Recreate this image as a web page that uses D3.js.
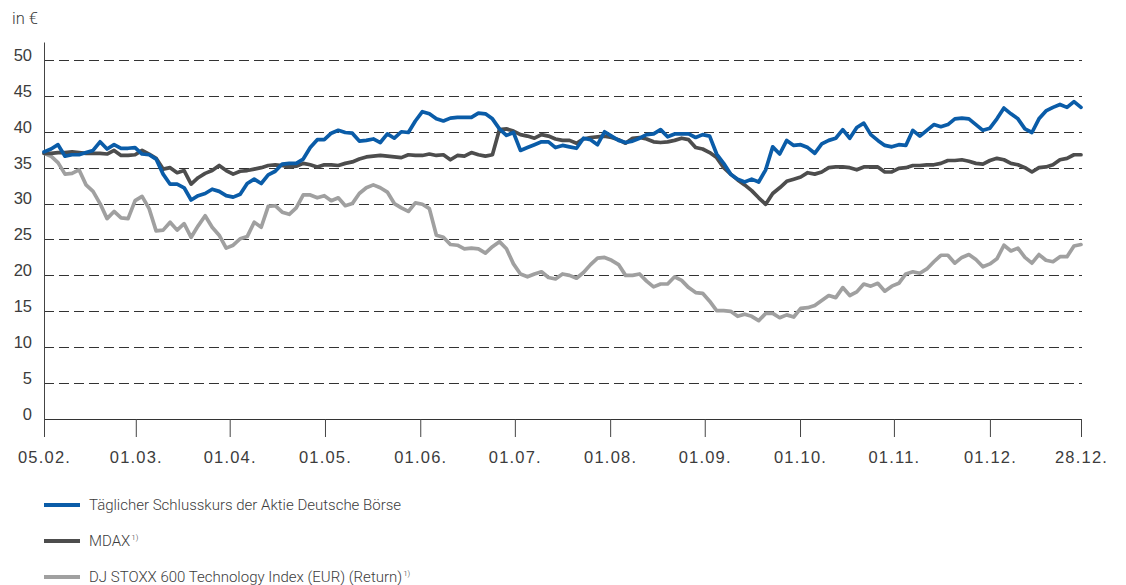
<!doctype html>
<meta charset="utf-8">
<title>Deutsche Börse Aktie 2001</title>
<style>
    html, body {
        margin: 0;
        background: #fff;
    }

    svg {
        display: block;
        font-family: Roboto, "Liberation Sans", sans-serif;
    }

    .axis text {
        font-size: 16.5px;
        fill: #3c3c3c;
        font-weight: 300;
    }

    .line {
        fill: none;
        stroke-width: 3.7;
        stroke-linejoin: round;
        stroke-linecap: round;
    }

    .legend text {
        font-size: 15px;
        fill: #3c3c3c;
        font-weight: 300;
    }
</style>
<svg width=1126 height=585></svg>
<script src="https://cdn.jsdelivr.net/npm/d3@7/dist/d3.min.js"></script>
<script>
    // tick labels and where they sit on the trading-day index
    var tickLabels = ['05.02.', '01.03.', '01.04.', '01.05.', '01.06.', '01.07.', '01.08.', '01.09.', '01.10.', '01.11.', '01.12.', '28.12.'];
    var tickIndex = [0, 13.1, 26.5, 40.1, 53.7, 67.2, 80.8, 94.3, 107.9, 121.3, 135.0, 148];
    var yTicks = [0, 5, 10, 15, 20, 25, 30, 35, 40, 45, 50];

    // daily closing price Deutsche Börse share
    var boerse = [
        37.2, 37.6, 38.2, 36.6, 36.8, 36.8, 37.1, 37.4, 38.6, 37.6,
        38.2, 37.7, 37.7, 37.8, 36.9, 36.8, 36.2, 34.1, 32.7, 32.7,
        32.2, 30.5, 31.1, 31.4, 32.0, 31.7, 31.1, 30.9, 31.3, 32.8,
        33.4, 32.8, 34.0, 34.5, 35.5, 35.6, 35.6, 36.2, 37.8, 38.9,
        38.9, 39.8, 40.2, 39.9, 39.8, 38.7, 38.8, 39.0, 38.5, 39.7,
        39.1, 40.0, 39.9, 41.5, 42.8, 42.5, 41.8, 41.5, 41.9, 42.0,
        42.0, 42.0, 42.6, 42.5, 41.8, 40.4, 39.5, 39.9, 37.4, 37.8,
        38.2, 38.6, 38.6, 37.8, 38.1, 37.9, 37.7, 39.1, 38.9, 38.2,
        40.0, 39.4, 38.8, 38.5, 38.7, 39.1, 39.6, 39.7, 40.3, 39.3,
        39.7, 39.7, 39.7, 39.2, 39.6, 39.4, 36.9, 35.6, 34.1, 33.4,
        33.0, 33.4, 33.0, 34.7, 37.9, 36.9, 38.8, 38.1, 38.2, 37.8,
        37.0, 38.3, 38.8, 39.1, 40.3, 39.1, 40.6, 41.2, 39.6, 38.8,
        38.1, 37.9, 38.2, 38.1, 40.2, 39.4, 40.2, 41.0, 40.7, 41.0,
        41.8, 41.9, 41.8, 41.0, 40.2, 40.5, 41.8, 43.3, 42.5, 41.8,
        40.4, 39.9, 41.8, 42.9, 43.4, 43.8, 43.4, 44.2, 43.4
    ];

    // MDAX, indexed
    var mdax = [
        37.0, 37.0, 37.1, 37.1, 37.2, 37.1, 37.0, 37.0, 37.0, 36.9,
        37.4, 36.7, 36.7, 36.8, 37.4, 36.9, 36.3, 34.8, 35.0, 34.3,
        34.6, 32.7, 33.6, 34.2, 34.6, 35.3, 34.6, 34.1, 34.5, 34.6,
        34.8, 35.0, 35.3, 35.4, 35.3, 35.1, 35.2, 35.6, 35.4, 35.1,
        35.4, 35.4, 35.3, 35.6, 35.8, 36.2, 36.5, 36.6, 36.7, 36.6,
        36.5, 36.4, 36.8, 36.7, 36.7, 36.9, 36.7, 36.8, 36.1, 36.7,
        36.6, 37.1, 36.8, 36.6, 36.8, 40.3, 40.4, 40.1, 39.6, 39.4,
        39.1, 39.6, 39.4, 39.0, 38.8, 38.8, 38.4, 39.0, 39.2, 39.3,
        39.4, 39.2, 38.9, 38.4, 39.1, 39.2, 39.0, 38.6, 38.5, 38.6,
        38.8, 39.1, 38.9, 37.8, 37.6, 37.1, 36.4, 35.0, 34.1, 33.3,
        32.6, 31.8, 30.8, 29.9, 31.4, 32.2, 33.1, 33.4, 33.7, 34.3,
        34.1, 34.4, 35.0, 35.1, 35.1, 35.0, 34.7, 35.1, 35.1, 35.1,
        34.4, 34.4, 34.9, 35.0, 35.3, 35.3, 35.4, 35.4, 35.6, 36.0,
        36.0, 36.1, 35.9, 35.6, 35.5, 36.0, 36.3, 36.1, 35.6, 35.4,
        35.0, 34.4, 35.0, 35.1, 35.4, 36.1, 36.3, 36.8, 36.8
    ];

    // DJ STOXX 600 Technology Index (EUR)(Return), indexed
    var stoxx = [
        37.0, 36.6, 35.7, 34.1, 34.2, 34.7, 32.6, 31.7, 30.0, 27.9,
        28.9, 28.0, 27.9, 30.4, 31.0, 29.3, 26.2, 26.3, 27.4, 26.3,
        27.2, 25.3, 26.9, 28.3, 26.7, 25.6, 23.8, 24.2, 25.1, 25.4,
        27.4, 26.7, 29.6, 29.7, 28.8, 28.5, 29.4, 31.2, 31.2, 30.8,
        31.1, 30.4, 30.8, 29.7, 30.0, 31.4, 32.2, 32.6, 32.2, 31.6,
        30.0, 29.4, 28.9, 30.1, 29.9, 29.3, 25.6, 25.3, 24.3, 24.2,
        23.7, 23.8, 23.7, 23.1, 24.0, 24.7, 23.7, 21.6, 20.2, 19.8,
        20.2, 20.5, 19.7, 19.5, 20.2, 20.0, 19.6, 20.4, 21.5, 22.4,
        22.5, 22.1, 21.5, 20.0, 20.0, 20.2, 19.2, 18.4, 18.8, 18.8,
        19.8, 19.3, 18.3, 17.6, 17.5, 16.4, 15.1, 15.1, 15.0, 14.3,
        14.6, 14.3, 13.7, 14.7, 14.7, 14.1, 14.5, 14.2, 15.4, 15.5,
        15.8, 16.5, 17.2, 16.9, 18.3, 17.2, 17.7, 18.8, 18.5, 18.9,
        17.8, 18.5, 18.9, 20.2, 20.5, 20.3, 20.9, 21.9, 22.8, 22.8,
        21.7, 22.5, 22.9, 22.2, 21.2, 21.6, 22.3, 24.2, 23.4, 23.8,
        22.5, 21.7, 22.9, 22.1, 21.9, 22.6, 22.6, 24.1, 24.3
    ];

    var seriesNames = ['Täglicher Schlusskurs der Aktie Deutsche Börse', 'MDAX', 'DJ STOXX 600 Technology Index (EUR) (Return)'];
    var seriesColors = ['#0a5ca8', '#4d4d4d', '#a0a0a0'];

    var svg = d3.select('svg');
    var margin = {top: 42, right: 45, bottom: 166, left: 44};
    var width = 1126 - margin.left - margin.right;
    var height = 585 - margin.top - margin.bottom;

    var x = d3.scaleLinear().domain([0, boerse.length - 1]).range([margin.left, margin.left + width]);
    var y = d3.scaleLinear().domain([0, 52.5]).range([margin.top + height, margin.top]);

    // dashed grid
    svg.append('g')
        .selectAll('line')
        .data(yTicks.filter(function (d) { return d > 0; }))
        .enter()
        .append('line')
        .attr('x1', x(0))
        .attr('x2', x(boerse.length - 1) + 1)
        .attr('y1', function (d) { return Math.round(y(d)) + 0.5; })
        .attr('y2', function (d) { return Math.round(y(d)) + 0.5; })
        .attr('stroke', '#333')
        .attr('stroke-width', 1)
        .attr('stroke-dasharray', '10,5');

    // y axis
    var yAxis = svg.append('g')
        .attr('class', 'axis')
        .attr('transform', 'translate(' + margin.left + ',0)')
        .call(d3.axisLeft(y).tickValues(yTicks).tickSize(0).tickPadding(12));
    yAxis.select('.domain').attr('stroke', '#444');
    yAxis.selectAll('text').attr('dy', '0.02em');

    // x axis
    var xAxis = svg.append('g')
        .attr('class', 'axis')
        .attr('transform', 'translate(0,' + (margin.top + height) + ')')
        .call(d3.axisBottom(x)
            .tickValues(tickIndex)
            .tickFormat(function (d, i) { return tickLabels[i]; })
            .tickSize(18)
            .tickSizeOuter(0)
            .tickPadding(14));
    xAxis.select('.domain').attr('stroke', '#333');
    xAxis.selectAll('.tick line').attr('stroke', '#444');
    xAxis.selectAll('text').style('letter-spacing', '1.2px');

    // lines, lightest at the back
    var line = d3.line()
        .x(function (d, i) { return x(i); })
        .y(function (d) { return y(d); });

    var series = [boerse, mdax, stoxx];
    [2, 1, 0].forEach(function (k) {
        svg.append('path')
            .attr('class', 'line')
            .attr('d', line(series[k]))
            .style('stroke', seriesColors[k]);
    });

    // "in €"
    svg.append('text')
        .attr('x', 12)
        .attr('y', 24)
        .attr('font-size', 16.5)
        .attr('font-weight', 300)
        .attr('fill', '#3c3c3c')
        .text('in €');

    // legend
    var legend = svg.append('g').attr('class', 'legend');
    var item = legend.selectAll('g')
        .data(seriesNames)
        .enter()
        .append('g')
        .attr('transform', function (d, i) { return 'translate(44,' + (505 + i * 36) + ')'; });

    item.append('line')
        .attr('x1', 0)
        .attr('x2', 36)
        .attr('stroke-width', 3.8)
        .attr('stroke', function (d, i) { return seriesColors[i]; });

    var label = item.append('text')
        .attr('x', 45)
        .attr('y', 5);
    label.append('tspan').text(function (d) { return d; });
    label.filter(function (d, i) { return i > 0; })
        .append('tspan')
        .attr('font-size', 8)
        .attr('dy', -6)
        .attr('dx', 1)
        .text('1)');
</script>
